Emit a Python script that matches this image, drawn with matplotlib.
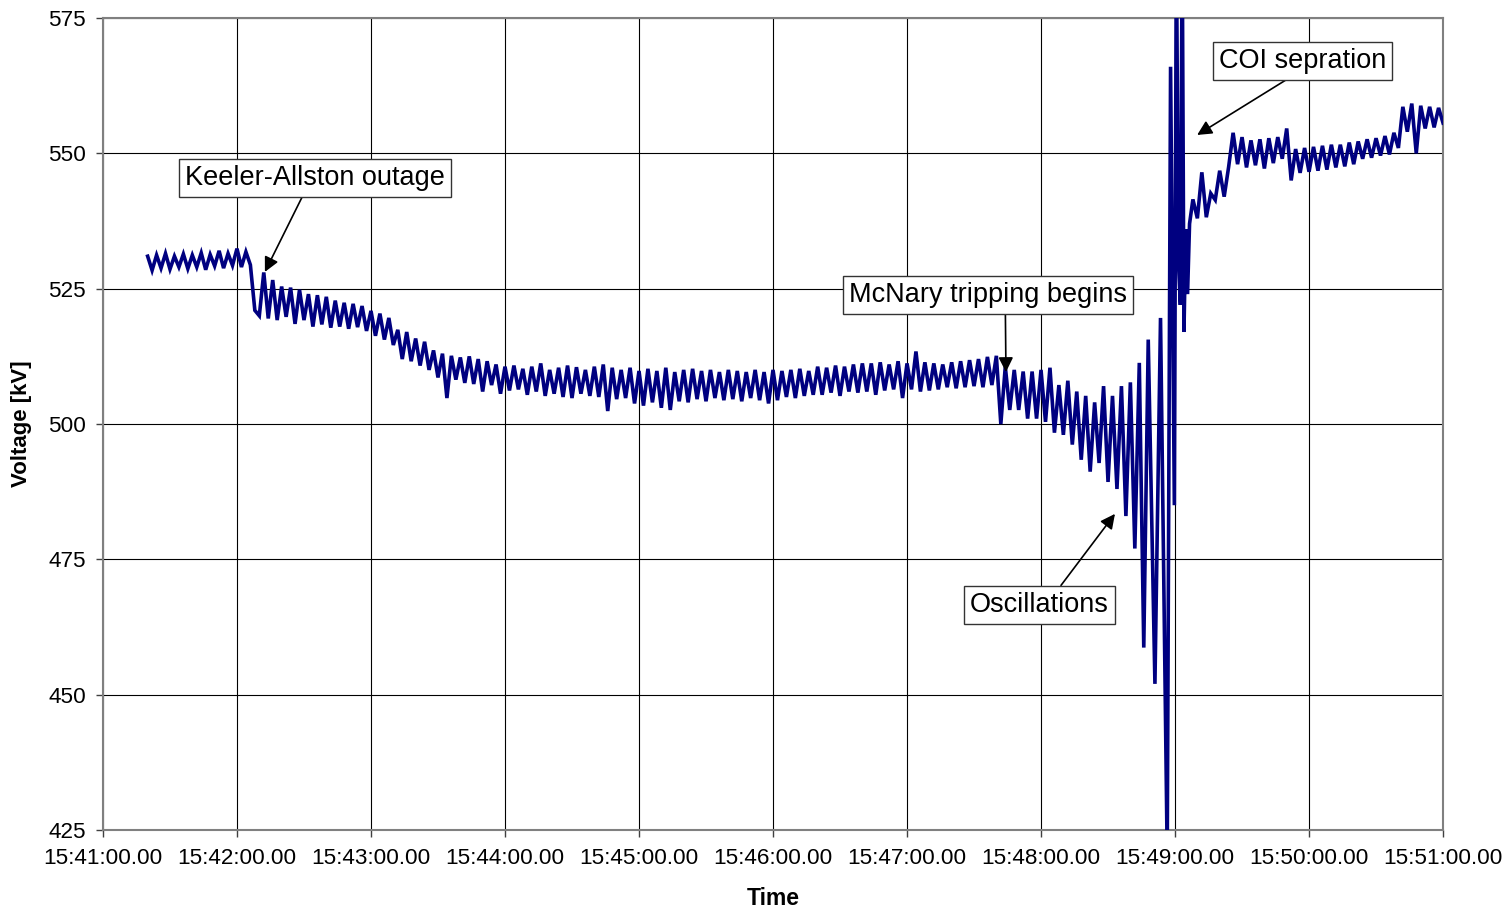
import numpy as np
import matplotlib
matplotlib.use("Agg")
import matplotlib.pyplot as plt
from matplotlib.ticker import FuncFormatter

plt.rcParams['font.family'] = ['Liberation Sans', 'DejaVu Sans']

# voltage samples [kV], every 2 s starting at 15:41:20 (t = 20 s) up to t = 468 s
volt_a = [
    531.0, 528.4, 531.2, 528.8, 531.5, 528.6, 531.0, 529.0, 531.4, 528.7,
    531.2, 529.0, 531.6, 528.5, 531.3, 529.2, 532.0, 528.8, 531.5, 529.3,
    532.4, 529.0, 531.8, 529.4, 521.0, 520.0, 528.0, 519.5, 526.6, 519.2,
    525.4, 519.8, 525.2, 518.5, 524.8, 519.2, 524.0, 518.0, 523.8, 518.4,
    523.5, 517.8, 522.8, 518.0, 522.4, 517.6, 522.2, 517.9, 521.8, 517.2,
    520.9, 516.3, 520.4, 515.6, 519.6, 514.6, 517.4, 512.0, 517.0, 511.6,
    515.8, 510.8, 515.2, 510.0, 513.6, 508.6, 513.0, 504.8, 512.6, 508.2,
    512.3, 507.6, 512.5, 507.4, 512.0, 506.0, 511.6, 507.2, 511.0, 505.6,
    510.6, 506.2, 510.8, 506.4, 510.2, 505.4, 510.6, 506.0, 511.2, 505.2,
    510.0, 505.6, 510.4, 505.0, 510.8, 504.8, 510.5, 505.6, 510.0, 505.2,
    510.6, 505.0, 511.0, 502.4, 510.4, 504.6, 510.0, 504.8, 510.4, 503.8,
    509.8, 503.4, 510.2, 504.0, 509.8, 503.0, 510.4, 502.6, 509.6, 504.2,
    510.0, 504.0, 510.2, 504.6, 509.8, 504.2, 510.0, 504.8, 509.6, 504.4,
    510.0, 504.6, 509.8, 504.2, 509.6, 504.8, 510.0, 504.4, 509.6, 503.8,
    510.0, 504.4, 509.8, 505.0, 510.0, 504.8, 510.2, 505.2, 509.8, 505.4,
    510.6, 505.4, 510.4, 505.8, 510.8, 505.2, 510.6, 506.0, 511.0, 505.8,
    511.2, 506.0, 511.2, 505.4, 511.4, 506.2, 511.0, 506.4, 511.6, 504.8,
    511.2, 506.4, 513.4, 506.0, 511.4, 506.2, 511.2, 506.4, 511.0, 506.8,
    511.4, 506.6, 511.6, 506.8, 511.8, 507.0, 512.0, 506.8, 512.4, 507.2,
    512.6, 500.0, 510.6, 502.6, 510.0, 502.6, 509.7, 501.0, 509.7, 501.0,
    510.0, 500.4, 510.4, 498.4, 507.2, 498.0, 508.0, 496.2, 506.0, 493.4,
    505.2, 491.2, 504.0, 492.8, 507.0, 489.3, 505.2, 488.0, 507.0, 483.0,
    507.7, 477.0, 511.3, 458.7, 515.6,
]

# final swings around the separation (irregular sampling)
burst_t = [471.0, 473.5, 476.5, 478.0, 479.7, 480.6, 481.5, 482.4, 483.2, 484.0, 484.8, 485.6, 486.5]
burst_v = [452.0, 519.6, 420.0, 566.0, 485.0, 590.0, 530.0, 522.0, 590.0, 517.0, 536.0, 524.0, 537.0]

# voltage samples every 2 s from t = 488 s to t = 600 s
volt_b = [
    541.5, 538.0, 546.5, 538.2, 542.6, 541.4, 546.8, 542.0, 547.5, 553.8,
    548.0, 553.0, 547.4, 552.4, 547.8, 552.6, 547.2, 552.8, 548.2, 553.0,
    549.0, 554.6, 545.0, 550.8, 546.4, 551.0, 546.6, 551.2, 546.8, 551.4,
    547.0, 551.6, 547.4, 551.6, 547.6, 552.0, 548.0, 552.2, 549.0, 552.6,
    549.2, 552.8, 549.6, 553.2, 549.8, 553.8, 551.0, 558.6, 554.0, 559.2,
    550.0, 558.8, 554.6, 558.6, 554.8, 558.4, 555.6,
]

time_ticks = [0, 60, 120, 180, 240, 300, 360, 420, 480, 540, 600]
volt_ticks = [425, 450, 475, 500, 525, 550, 575]

t_a = 20 + 2 * np.arange(len(volt_a))
t_b = 488 + 2 * np.arange(len(volt_b))
t = np.concatenate([t_a, burst_t, t_b])
v = np.concatenate([volt_a, burst_v, volt_b])


def fmt_time(x, pos):
    total = 15 * 3600 + 41 * 60 + x
    h = int(total // 3600)
    m = int((total % 3600) // 60)
    s = total % 60
    return f"{h}:{m:02d}:{s:05.2f}"


fig = plt.figure(figsize=(15.12, 9.11), dpi=100)
ax = fig.add_axes([0.0681, 0.0889, 0.8863, 0.8913])

ax.plot(t, v, color='#000080', lw=2.6, zorder=3, solid_joinstyle='miter')

ax.set_xlim(0, 600)
ax.set_ylim(425, 575)
ax.set_xticks(time_ticks)
ax.set_yticks(volt_ticks)
ax.xaxis.set_major_formatter(FuncFormatter(fmt_time))
ax.grid(True, color='black', lw=0.8, zorder=1)
ax.set_axisbelow(True)
for sp in ax.spines.values():
    sp.set_color('#808080')
    sp.set_linewidth(1.5)
ax.tick_params(axis='both', labelsize=16.2, direction='out', length=5, width=1, color='#404040')
ax.tick_params(axis='y', pad=7)
ax.tick_params(axis='x', pad=8)

ax.set_xlabel('Time', fontsize=16.5, fontweight='bold', labelpad=13)
ax.set_ylabel('Voltage [kV]', fontsize=16, fontweight='bold', labelpad=12)

box = dict(boxstyle='square,pad=0.22', fc='white', ec='#333333', lw=1)


def note(text, xy, xytext, rel):
    ax.annotate(text, xy=xy, xytext=xytext, fontsize=19.5, ha='center', va='center',
                bbox=box, zorder=5,
                arrowprops=dict(arrowstyle='-|>', color='black', lw=1.2,
                                mutation_scale=22, relpos=rel, shrinkA=0, shrinkB=0))


note('Keeler-Allston outage', (72.5, 528.1), (95.1, 545.4), (0.46, 0.0))
note('McNary tripping begins', (404.3, 509.6), (396.3, 523.8), (0.562, 0.0))
note('Oscillations', (453.1, 483.4), (419.3, 466.6), (0.62, 1.0))
note('COI sepration', (489.9, 553.4), (537.1, 567.1), (0.46, 0.0))

fig.savefig('out.png', dpi=100)
